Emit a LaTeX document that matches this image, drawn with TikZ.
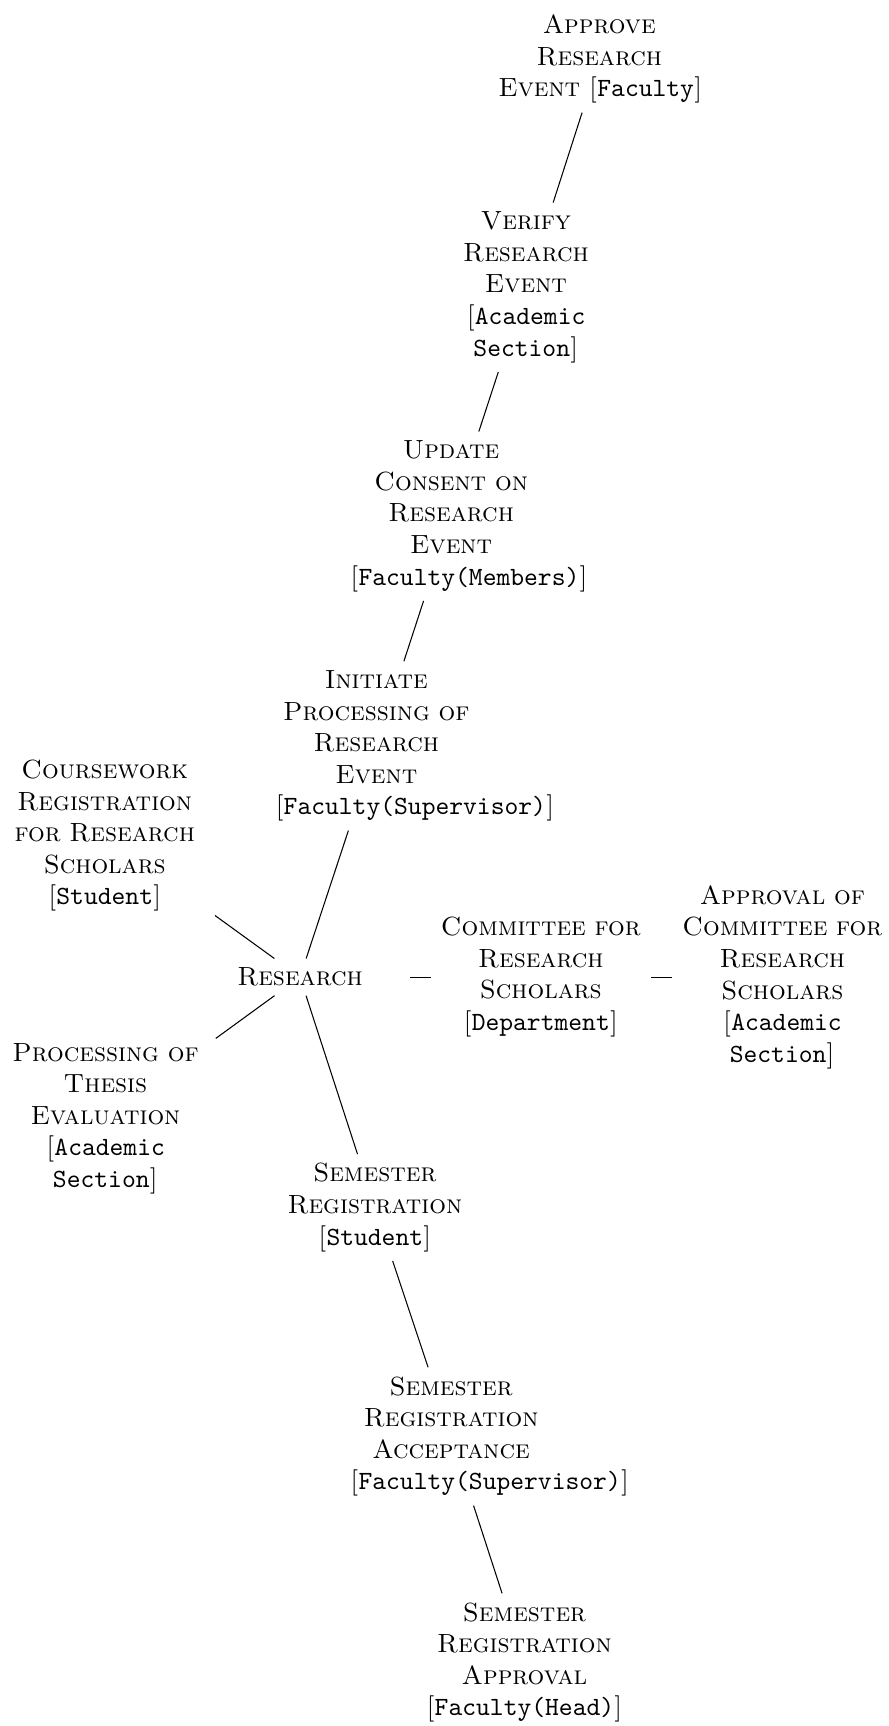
\documentclass[tikz,border=0pt]{standalone}
\usetikzlibrary{positioning}
\newcommand{\tto}[1]{\mbox{\normalfont\ttfamily #1}}

\begin{document}
\begin{tikzpicture}[node distance=0.27cm,
  activity/.style={text width=2.7cm, align=center, font=\scshape}]
  \useasboundingbox (0,0) rectangle (11.87,-23.07);
  \node[activity] (research) at (4.01,-13.06) {Research};
  \node[activity, right=of research] (committee) {Committee~for\\Research\\Scholars\\{[}\tto{Department}]};
  \node[activity, right=0.28cm of committee] (approvecommittee) {Approval~of\\Committee~for\\Research\\Scholars\\{[}\tto{Academic}\\\tto{Section}]};
  \node[activity] (initiate) at (5.03,-9.97) {Initiate\\Processing~of\\Research\\Event\\{[}\tto{Faculty(Supervisor)}]};
  \node[activity] (consent) at (6.03,-6.90) {Update\\Consent~on\\Research\\Event\\{[}\tto{Faculty(Members)}]};
  \node[activity] (verify) at (7.03,-3.84) {Verify\\Research\\Event\\{[}\tto{Academic}\\\tto{Section}]};
  \node[activity] (approve) at (8.01,-0.79) {Approve\\Research\\Event~[\tto{Faculty}]};
  \node[activity] (coursework) at (1.40,-11.17) {Coursework\\Registration\\for~Research\\Scholars\\{[}\tto{Student}]};
  \node[activity] (thesis) at (1.41,-14.95) {Processing~of\\Thesis\\Evaluation\\{[}\tto{Academic}\\\tto{Section}]};
  \node[activity] (semreg) at (5.01,-16.14) {Semester\\Registration\\{[}\tto{Student}]};
  \node[activity] (accept) at (6.03,-19.20) {Semester\\Registration\\Acceptance\\{[}\tto{Faculty(Supervisor)}]};
  \node[activity] (semapprove) at (7.01,-22.22) {Semester\\Registration\\Approval\\{[}\tto{Faculty(Head)}]};
  % research branch upwards
  \draw (research) -- (initiate);
  \draw (initiate) -- (consent);
  \draw (consent) -- (verify);
  \draw (verify) -- (approve);
  % side branches
  \draw (research) -- (coursework);
  \draw (research) -- (thesis);
  \draw (research) -- (committee);
  \draw (committee) -- (approvecommittee);
  % semester branch
  \draw (research) -- (semreg);
  \draw (semreg) -- (accept);
  \draw (accept) -- (semapprove);
\end{tikzpicture}
\end{document}
